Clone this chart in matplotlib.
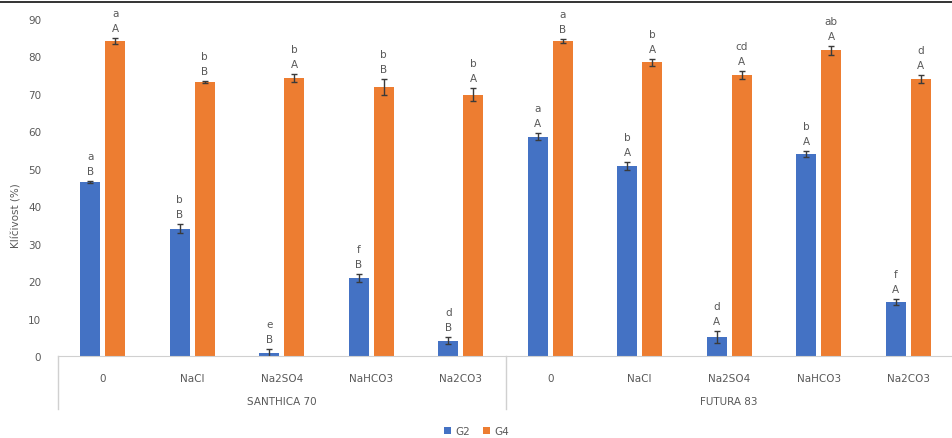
import numpy as np
import matplotlib.pyplot as plt
from matplotlib.lines import Line2D

# germination of two varieties under salt treatments
treatments = ["0", "NaCl", "Na2SO4", "NaHCO3", "Na2CO3"]
varieties = ["SANTHICA 70", "FUTURA 83"]

g2_santhica = [46.5, 34.0, 0.8, 20.8, 4.1]
g4_santhica = [84.1, 73.2, 74.3, 71.8, 69.8]
g2_futura = [58.6, 50.8, 5.1, 54.0, 14.3]
g4_futura = [84.1, 78.4, 75.0, 81.6, 74.0]

g2_err_santhica = [0.3, 1.2, 1.2, 1.0, 1.0]
g4_err_santhica = [0.8, 0.3, 1.0, 2.2, 1.8]
g2_err_futura = [1.0, 1.0, 1.5, 0.8, 0.8]
g4_err_futura = [0.5, 1.0, 1.0, 1.2, 1.0]

g2_low = ["a", "b", "e", "f", "d", "a", "b", "d", "b", "f"]
g2_up = ["B", "B", "B", "B", "B", "A", "A", "A", "A", "A"]
g4_low = ["a", "b", "b", "b", "b", "a", "b", "cd", "ab", "d"]
g4_up = ["A", "B", "A", "B", "A", "B", "A", "A", "A", "A"]

blue = "#4472C4"
orange = "#ED7D31"
grey = "#595959"

g2 = np.array(g2_santhica + g2_futura)
g4 = np.array(g4_santhica + g4_futura)
g2e = np.array(g2_err_santhica + g2_err_futura)
g4e = np.array(g4_err_santhica + g4_err_futura)
x = np.arange(len(g2))
w = 0.22
off = 0.14

fig = plt.figure(figsize=(9.53, 4.39), dpi=100)
ax = fig.add_axes([58 / 953, 1 - 357 / 439, 895 / 953, 337 / 439])

ekw = dict(ecolor="#3a3a3a", elinewidth=1, capsize=2.5, capthick=1)
ax.bar(x - off, g2, w, yerr=g2e, color=blue, label="G2", error_kw=ekw)
ax.bar(x + off, g4, w, yerr=g4e, color=orange, label="G4", error_kw=ekw)

for i in range(len(x)):
    for xpos, top, up, low in ((x[i] - off, g2[i] + g2e[i], g2_up[i], g2_low[i]),
                               (x[i] + off, g4[i] + g4e[i], g4_up[i], g4_low[i])):
        ax.annotate(up, (xpos, top), xytext=(0, 10), textcoords="offset pixels",
                    ha="center", va="center", fontsize=7.5, color=grey,
                    annotation_clip=False)
        ax.annotate(low, (xpos, top), xytext=(0, 25), textcoords="offset pixels",
                    ha="center", va="center", fontsize=7.5, color=grey,
                    annotation_clip=False)

ax.set_xlim(-0.5, 9.5)
ax.set_ylim(0, 90)
ax.set_yticks(np.arange(0, 91, 10))
ax.tick_params(axis="y", length=0, labelsize=7.5, labelcolor=grey, pad=12)
ax.set_xticks(x)
ax.set_xticklabels(treatments * 2)
ax.tick_params(axis="x", length=0, labelsize=7.5, labelcolor=grey, pad=12)
for s in ("top", "right", "left"):
    ax.spines[s].set_visible(False)
ax.spines["bottom"].set_color("#d0d0d0")

ax.set_ylabel("Klíčivost (%)", fontsize=7.5, color=grey)
ax.yaxis.set_label_coords(-0.041, 0.42)

# group separators and variety names under the category labels
trans = ax.get_xaxis_transform()
for xs in (-0.5, 4.5, 9.5):
    ax.add_line(Line2D([xs, xs], [0, -0.157], transform=trans, color="#d0d0d0",
                       lw=1, clip_on=False))
for k, name in enumerate(varieties):
    ax.text(2 + 5 * k, -0.135, name, transform=trans, ha="center", va="center",
            fontsize=7.5, color=grey)

leg = fig.legend(loc="center", bbox_to_anchor=(0.5, 1 - 432 / 439), ncol=2,
                 frameon=False, fontsize=7.5, handlelength=0.7, handleheight=0.7,
                 columnspacing=1.2, handletextpad=0.4)
for t in leg.get_texts():
    t.set_color(grey)

# dark rule along the top edge
fig.add_artist(Line2D([0, 1], [1 - 3 / 439, 1 - 3 / 439], transform=fig.transFigure,
                      color="#333333", lw=1.4))

fig.savefig("out.png", dpi=100)
